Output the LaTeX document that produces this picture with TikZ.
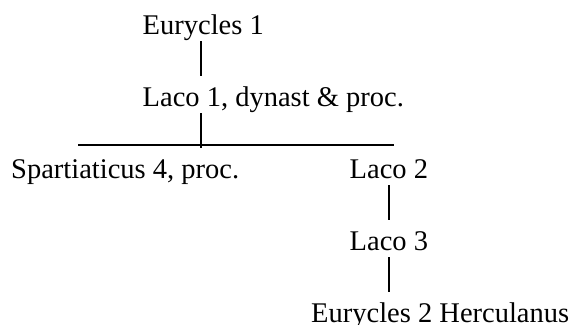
\documentclass[tikz,border=0pt]{standalone}
\usepackage{fontspec}
\setmainfont{Liberation Serif}
\begin{document}
\begin{tikzpicture}[x=1pt,y=1pt,
  person/.style={anchor=base west,inner sep=0pt,text height=20pt,text depth=7pt,
    font=\fontsize{28.5}{34}\selectfont},
  descent/.style={line width=2pt,shorten >=10pt},
  bar/.style={line width=1.2pt}]
  \useasboundingbox (0,0) rectangle (572,-324);
  % family members
  \node[person] (e1) at (142.5,-34) {Eurycles 1};
  \node[person] (l1) at (142.5,-106) {Laco 1, dynast \& proc.};
  \node[person] (sp) at (11,-178) {Spartiaticus 4, proc.};
  \node[person] (l2) at (349.5,-178) {Laco 2};
  \node[person] (l3) at (349.5,-250) {Laco 3};
  \node[person] (e2) at (311,-322) {Eurycles 2 Herculanus};
  % sibling bar and its joint
  \coordinate (barL) at (78,-145);
  \coordinate (barR) at (394,-145);
  \coordinate (joint) at (201,-148);
  \draw[bar] (barL) -- (barR);
  % lines of descent
  \draw[descent] (e1.south -| joint) -- (l1.north -| joint);
  \draw[line width=2pt] (l1.south -| joint) -- (joint);
  \draw[descent] (l2.south) -- (l2.south |- l3.north);
  \draw[descent] (l3.south) -- (l3.south |- e2.north);
\end{tikzpicture}
\end{document}
